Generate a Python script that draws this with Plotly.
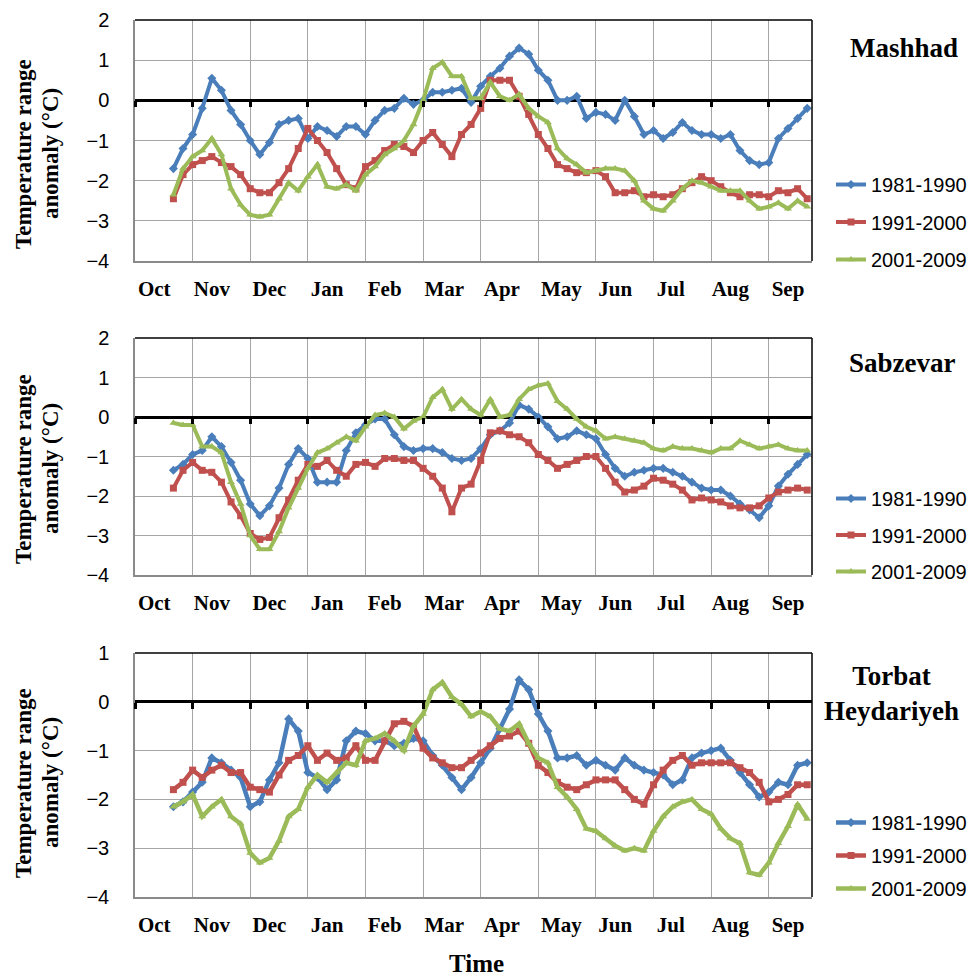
import plotly.graph_objects as go

# ---------------- data ----------------
days = list(range(20, 351, 5))
month_labels = ["Oct", "Nov", "Dec", "Jan", "Feb", "Mar", "Apr", "May", "Jun", "Jul", "Aug", "Sep"]
series_names = ["1981-1990", "1991-2000", "2001-2009"]
stations = ["Mashhad", "Sabzevar", "Torbat<br>Heydariyeh"]
ytitle_lines = ["Temperature range", "anomaly (°C)"]

mashhad_8190 = [-1.7, -1.2, -0.85, -0.2, 0.55, 0.25, -0.25, -0.6, -1.0, -1.35, -1.05, -0.6, -0.5, -0.45, -0.95, -0.65,
                -0.75, -0.9, -0.65, -0.65, -0.85, -0.5, -0.25, -0.2, 0.05, -0.1, 0.0, 0.2, 0.2, 0.25, 0.3, -0.05,
                0.35, 0.6, 0.8, 1.1, 1.3, 1.15, 0.75, 0.5, 0.0, 0.0, 0.1, -0.45, -0.3, -0.35, -0.5, 0.0, -0.4, -0.85,
                -0.75, -0.95, -0.8, -0.55, -0.75, -0.85, -0.85, -0.95, -0.85, -1.25, -1.5, -1.6, -1.55, -0.95, -0.7,
                -0.45, -0.2]
mashhad_9100 = [-2.45, -1.85, -1.6, -1.5, -1.4, -1.55, -1.65, -1.85, -2.2, -2.3, -2.3, -2.05, -1.7, -1.2, -0.7, -1.0,
                -1.3, -1.7, -2.1, -2.2, -1.65, -1.5, -1.25, -1.1, -1.15, -1.3, -1.0, -0.8, -1.1, -1.4, -0.85, -0.6,
                -0.2, 0.5, 0.5, 0.5, 0.1, -0.35, -0.85, -1.2, -1.6, -1.7, -1.8, -1.8, -1.75, -1.9, -2.3, -2.3, -2.25,
                -2.4, -2.35, -2.4, -2.35, -2.2, -2.05, -1.9, -2.0, -2.15, -2.3, -2.4, -2.35, -2.35, -2.4, -2.25, -2.3,
                -2.2, -2.45]
mashhad_0109 = [-2.35, -1.7, -1.4, -1.25, -0.95, -1.35, -2.2, -2.6, -2.85, -2.9, -2.85, -2.45, -2.05, -2.25, -1.9, -1.6,
                -2.15, -2.2, -2.1, -2.25, -1.85, -1.65, -1.35, -1.2, -1.0, -0.6, 0.0, 0.8, 0.95, 0.6, 0.6, 0.05,
                0.05, 0.45, 0.1, 0.0, 0.15, -0.2, -0.4, -0.55, -1.2, -1.45, -1.6, -1.8, -1.75, -1.7, -1.7, -1.75, -2.0,
                -2.5, -2.7, -2.75, -2.5, -2.2, -2.0, -2.05, -2.15, -2.25, -2.25, -2.25, -2.5, -2.7, -2.65, -2.55, -2.7,
                -2.5, -2.65]

sabzevar_8190 = [-1.35, -1.2, -0.95, -0.85, -0.5, -0.75, -1.15, -1.6, -2.2, -2.5, -2.25, -1.8, -1.2, -0.8, -1.05, -1.65,
                 -1.65, -1.65, -0.85, -0.4, -0.2, -0.05, -0.05, -0.45, -0.75, -0.85, -0.8, -0.8, -0.9, -1.05, -1.1,
                 -1.05, -0.8, -0.45, -0.35, -0.15, 0.3, 0.2, 0.0, -0.25, -0.55, -0.5, -0.35, -0.45, -0.55, -0.95, -1.3,
                 -1.5, -1.4, -1.35, -1.3, -1.3, -1.4, -1.5, -1.65, -1.8, -1.85, -1.85, -2.0, -2.2, -2.35, -2.55, -2.25,
                 -1.75, -1.45, -1.2, -0.95]
sabzevar_9100 = [-1.8, -1.35, -1.15, -1.35, -1.4, -1.65, -2.15, -2.5, -2.95, -3.1, -3.05, -2.55, -2.1, -1.6, -1.2,
                 -1.25, -1.1, -1.35, -1.5, -1.2, -1.15, -1.25, -1.05, -1.05, -1.1, -1.1, -1.3, -1.5, -1.8, -2.4, -1.8,
                 -1.7, -1.1, -0.4, -0.35, -0.45, -0.5, -0.65, -0.95, -1.1, -1.3, -1.2, -1.1, -1.0, -1.0, -1.3, -1.65,
                 -1.9, -1.85, -1.75, -1.55, -1.6, -1.7, -1.85, -2.1, -2.05, -2.1, -2.15, -2.25, -2.3, -2.3, -2.25,
                 -2.05, -1.9, -1.85, -1.8, -1.85]
sabzevar_0109 = [-0.15, -0.2, -0.2, -0.75, -0.75, -0.9, -1.65, -2.2, -3.0, -3.35, -3.35, -2.9, -2.3, -1.8, -1.3, -0.9,
                 -0.8, -0.65, -0.5, -0.6, -0.25, 0.05, 0.1, 0.0, -0.3, -0.1, 0.0, 0.5, 0.7, 0.2, 0.45, 0.2, 0.05, 0.45,
                 0.0, 0.05, 0.45, 0.7, 0.8, 0.85, 0.4, 0.2, -0.05, -0.25, -0.35, -0.55, -0.5, -0.55, -0.6, -0.65, -0.8,
                 -0.85, -0.75, -0.8, -0.8, -0.85, -0.9, -0.8, -0.8, -0.6, -0.7, -0.8, -0.75, -0.7, -0.8, -0.85, -0.85]

torbat_8190 = [-2.15, -2.05, -1.85, -1.65, -1.15, -1.25, -1.4, -1.55, -2.15, -2.05, -1.6, -1.25, -0.35, -0.6, -1.45,
               -1.55, -1.8, -1.6, -0.8, -0.6, -0.65, -0.8, -0.8, -0.9, -0.85, -0.75, -0.8, -1.1, -1.3, -1.55, -1.8,
               -1.55, -1.25, -0.95, -0.55, -0.15, 0.45, 0.25, -0.25, -0.6, -1.15, -1.15, -1.1, -1.3, -1.2, -1.3, -1.4,
               -1.15, -1.3, -1.4, -1.45, -1.5, -1.7, -1.6, -1.15, -1.05, -1.0, -0.95, -1.2, -1.45, -1.7, -1.95, -1.85,
               -1.65, -1.7, -1.3, -1.25]
torbat_9100 = [-1.8, -1.65, -1.4, -1.55, -1.4, -1.3, -1.45, -1.45, -1.75, -1.8, -1.85, -1.5, -1.2, -1.1, -0.9, -1.2,
               -1.05, -1.2, -1.15, -0.9, -1.2, -1.2, -0.8, -0.45, -0.4, -0.5, -0.95, -1.15, -1.25, -1.35, -1.35, -1.2,
               -1.05, -0.9, -0.75, -0.7, -0.6, -0.85, -1.3, -1.45, -1.65, -1.75, -1.8, -1.7, -1.6, -1.6, -1.6, -1.8,
               -2.0, -2.1, -1.7, -1.4, -1.2, -1.1, -1.3, -1.25, -1.25, -1.25, -1.25, -1.35, -1.45, -1.65, -2.05, -2.0,
               -1.9, -1.7, -1.7]
torbat_0109 = [-2.15, -2.05, -1.9, -2.35, -2.15, -2.0, -2.35, -2.5, -3.1, -3.3, -3.2, -2.85, -2.35, -2.2, -1.75, -1.5,
               -1.65, -1.45, -1.25, -1.3, -0.8, -0.75, -0.65, -0.8, -1.0, -0.5, -0.25, 0.25, 0.4, 0.1, -0.05, -0.3,
               -0.2, -0.3, -0.55, -0.6, -0.45, -0.85, -1.15, -1.25, -1.75, -1.95, -2.2, -2.6, -2.65, -2.8, -2.95,
               -3.05, -3.0, -3.05, -2.65, -2.35, -2.15, -2.05, -2.0, -2.2, -2.3, -2.6, -2.8, -2.9, -3.5, -3.55, -3.3,
               -2.9, -2.55, -2.1, -2.4]

panels = [
    [mashhad_8190, mashhad_9100, mashhad_0109],
    [sabzevar_8190, sabzevar_9100, sabzevar_0109],
    [torbat_8190, torbat_9100, torbat_0109],
]
y_ranges = [[-4, 2], [-4, 2], [-4, 1]]

# ---------------- style ----------------
W, H = 972, 978
colors = ["#4A7EBB", "#C0504D", "#9BBB59"]
symbols = ["diamond", "square", "triangle-up"]
serif = "Liberation Serif, Times New Roman, serif"
sans = "Liberation Sans, Arial, sans-serif"
label_pos = [10, 40, 70, 100, 130, 161, 191, 222, 250, 279, 310, 340]

# pixel boxes of plot areas (top, bottom)
boxes = [(20, 261), (338, 575), (653, 897)]
x_left, x_right = 135, 812
legend_tops = [165, 479, 803]
legend_gaps = [8.5, 7.5, 4]
title_pos = [(904, 48), (902, 363), (891, 693)]
ytitle_centers = [154, 469, 783]

fig = go.Figure()

for p in range(3):
    ax = "" if p == 0 else str(p + 1)
    lg = "legend" if p == 0 else f"legend{p + 1}"
    for s in range(3):
        fig.add_trace(go.Scatter(
            x=days, y=panels[p][s], name=series_names[s],
            mode="lines+markers",
            line=dict(color=colors[s], width=4.5 if p == 2 else 4),
            marker=dict(color=colors[s], symbol=symbols[s], size=7),
            xaxis="x" + ax, yaxis="y" + ax, legend=lg,
            legendgroup=f"p{p}s{s}",
        ))
    top, bot = boxes[p]
    xaxis = dict(
        domain=[x_left / W, x_right / W], range=[0, 352.5], anchor="y" + ax,
        tickmode="array", tickvals=label_pos, ticktext=month_labels,
        tickfont=dict(family=serif, size=21, color="black", weight="bold"),
        showgrid=False, zeroline=False, automargin=False,
        showline=True, linecolor="#8a8a8a", linewidth=1.5,
        ticks="", ticklabelstandoff=8,
        minor=dict(dtick=30, tick0=0, showgrid=True, gridcolor="#a6a6a6", gridwidth=1.2, ticks=""),
    )
    yaxis = dict(
        domain=[1 - bot / H, 1 - top / H], range=y_ranges[p], anchor="x" + ax,
        dtick=1, tick0=0, automargin=False,
        tickfont=dict(family=sans, size=20, color="black"),
        showgrid=True, gridcolor="#a6a6a6", gridwidth=1.2,
        zeroline=True, zerolinecolor="black", zerolinewidth=3,
        showline=True, linecolor="#8a8a8a", linewidth=1.5,
        ticks="", ticklabelstandoff=20,
    )
    fig.layout["xaxis" + ax] = xaxis
    fig.layout["yaxis" + ax] = yaxis

    # tick marks hanging from the zero line (Excel horizontal axis crossing at 0)
    y_lo, y_hi = y_ranges[p]
    zero_frac = (1 - bot / H) + (0 - y_lo) / (y_hi - y_lo) * ((bot - top) / H)
    fig.layout[f"xaxis{p + 4}"] = dict(
        overlaying="x" + ax, anchor="free", position=zero_frac, side="bottom",
        domain=[x_left / W, x_right / W], range=[0, 352.5],
        tickmode="linear", tick0=0, dtick=30, ticks="outside", ticklen=6, tickwidth=2.5,
        tickcolor="black", showticklabels=False, showgrid=False, zeroline=False, showline=False,
        automargin=False,
    )
    fig.add_trace(go.Scatter(x=[], y=[], xaxis=f"x{p + 4}", yaxis="y" + ax, showlegend=False,
                             hoverinfo="skip", mode="lines"))

    fig.layout[lg] = dict(
        x=1, y=1 - legend_tops[p] / H, xanchor="right", yanchor="top",
        font=dict(family=sans, size=20, color="black"),
        bgcolor="rgba(0,0,0,0)", traceorder="grouped", tracegroupgap=legend_gaps[p],
    )
    # black top and right borders of plot area
    fig.add_shape(type="line", xref=f"x{ax} domain", yref=f"y{ax} domain", x0=0, x1=1, y0=1, y1=1,
                  line=dict(color="black", width=1.5))
    fig.add_shape(type="line", xref=f"x{ax} domain", yref=f"y{ax} domain", x0=1, x1=1, y0=0, y1=1,
                  line=dict(color="black", width=1.5))
    # station title
    tx, ty = title_pos[p]
    fig.add_annotation(x=tx / W, y=1 - ty / H, xref="paper", yref="paper", text=stations[p],
                       showarrow=False, xanchor="center", yanchor="middle",
                       font=dict(family=serif, size=27, color="black", weight="bold"))
    # y-axis title (two lines)
    for li, lx in enumerate([23, 50]):
        fig.add_annotation(x=lx / W, y=1 - ytitle_centers[p] / H, xref="paper", yref="paper",
                           text=ytitle_lines[li], textangle=-90, showarrow=False,
                           xanchor="center", yanchor="middle",
                           font=dict(family=serif, size=23, color="black", weight="bold"))

fig.add_annotation(x=476 / W, y=0, xref="paper", yref="paper", text="Time", showarrow=False,
                   xanchor="center", yanchor="bottom", borderpad=0,
                   font=dict(family=serif, size=25, color="black", weight="bold"))

fig.update_layout(
    template="none",
    width=W, height=H, margin=dict(l=0, r=0, t=0, b=0, autoexpand=False),
    paper_bgcolor="white", plot_bgcolor="white", showlegend=True,
)

fig.write_html("out.html", config={"displayModeBar": False},
               post_script="document.body.style.margin='0';")
